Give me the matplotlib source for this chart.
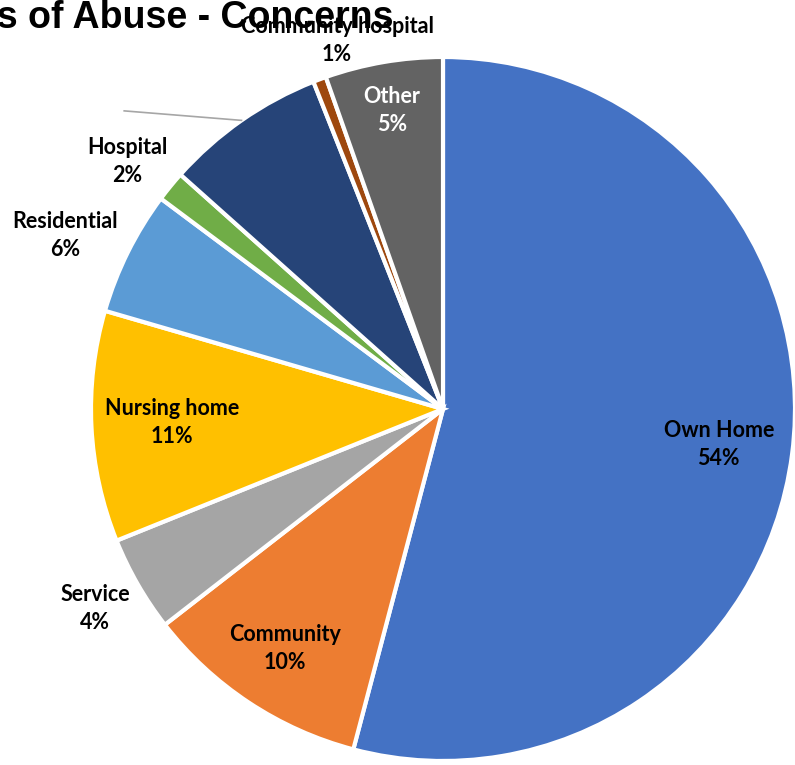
import matplotlib.pyplot as plt
import numpy as np

# share of concerns by location (clockwise from 12 o'clock)
locations = ["Own Home", "Community", "Service", "Nursing home", "Residential",
             "Hospital", "", "Community hospital", "Other"]
shares = [54.1, 10.4, 4.4, 10.6, 5.7, 1.4, 7.4, 0.6, 5.4]
pct_labels = ["54%", "10%", "4%", "11%", "6%", "2%", "", "1%", "5%"]

colors = ["#4472C4", "#ED7D31", "#A5A5A5", "#FFC000", "#5B9BD5",
          "#70AD47", "#264478", "#9E480E", "#636363"]
# label placement: distance (x radius) and angular nudge (deg) from slice middle
label_dist = [0.79, 0.815, 1.14, 0.77, 1.18, 1.14, 0, 1.09, 0.86]
label_turn = [0, 0, 0, 0, 1.8, 1.2, 0, -4.5, 0]
label_color = ["black"] * 8 + ["white"]

W, H = 795, 765
fig = plt.figure(figsize=(W / 100, H / 100), dpi=100)
ax = fig.add_axes([0, 0, 1, 1])

cx, cy, r = 443, H - 409, 352
wedges, _ = ax.pie(shares, colors=colors, startangle=90, counterclock=False,
                   center=(cx, cy), radius=r, frame=True,
                   wedgeprops=dict(edgecolor="white", linewidth=3))
ax.set_xlim(0, W)
ax.set_ylim(0, H)
ax.set_aspect("equal")
ax.axis("off")

for w, name, pct, d, t, col in zip(wedges, locations, pct_labels, label_dist,
                                   label_turn, label_color):
    if not name:
        continue
    mid = np.deg2rad((w.theta1 + w.theta2) / 2 + t)
    x = cx + d * r * np.cos(mid)
    y = cy + d * r * np.sin(mid)
    ax.text(x, y, name + "\n" + pct, ha="center", va="center", color=col,
            fontsize=15.5, fontweight="bold", family=["Lato", "DejaVu Sans"],
            linespacing=1.42)

# leader line for the unlabelled navy slice
navy = wedges[6]
mid = np.deg2rad((navy.theta1 + navy.theta2) / 2)
x0, y0 = cx + r * np.cos(mid), cy + r * np.sin(mid)
a1 = mid + np.deg2rad(12)
ax.plot([x0, cx + 1.24 * r * np.cos(a1)], [y0, cy + 1.24 * r * np.sin(a1)],
        color="#A6A6A6", lw=1.2)

ax.text(393, H - 28, "Types of Abuse - Concerns", ha="right", va="baseline",
        fontsize=27, fontweight="bold", family="Liberation Sans")

fig.savefig("out.png", dpi=100)
